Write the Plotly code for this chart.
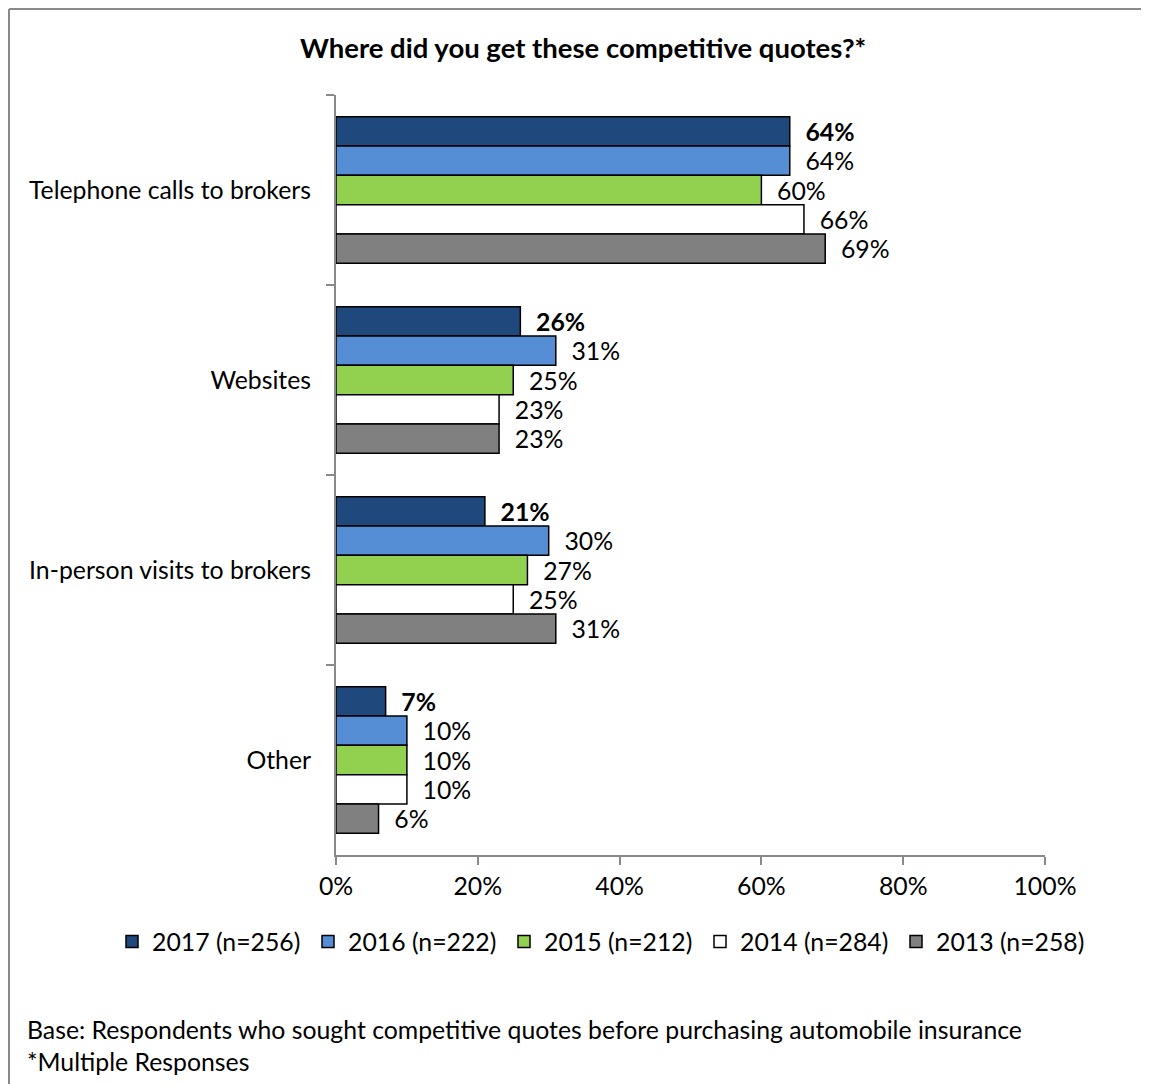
import plotly.graph_objects as go

categories = ["Telephone calls to brokers", "Websites", "In-person visits to brokers", "Other"]
series_names = ["2017 (n=256)", "2016 (n=222)", "2015 (n=212)", "2014 (n=284)", "2013 (n=258)"]
v2017 = [64, 26, 21, 7]
v2016 = [64, 31, 30, 10]
v2015 = [60, 25, 27, 10]
v2014 = [66, 23, 25, 10]
v2013 = [69, 23, 31, 6]
colors = ["#1F497D", "#558ED5", "#92D050", "#FFFFFF", "#808080"]
x_ticks = [0, 20, 40, 60, 80, 100]
x_tick_labels = ["0%", "20%", "40%", "60%", "80%", "100%"]

FONT = "Lato"
FS = 24.8
OFF = 8  # page body margin
W, H = 1149, 1084
L, R, T, B = 336 - OFF, 104 + OFF, 95 - OFF, 229 + OFF
pw = 1045 - 336
ph = 855 - 95

def px(x):
    return (x - 336) / pw

def py(y):
    return (855 - y) / ph

fig = go.Figure()
all_vals = [v2017, v2016, v2015, v2014, v2013]
for i, (name, vals, col) in enumerate(zip(series_names, all_vals, colors)):
    if i == 0:
        labels = ["&nbsp;&nbsp;<b>%d%%</b>" % v for v in vals]
    else:
        labels = ["&nbsp;&nbsp;%d%%" % v for v in vals]
    fig.add_trace(go.Bar(
        y=categories, x=vals, name=name, orientation="h",
        marker=dict(color=col, line=dict(color="#000000", width=1.5)),
        text=labels, textposition="outside", constraintext="none",
        textfont=dict(family=FONT, size=FS, color="#000000"),
        cliponaxis=False, hoverinfo="skip",
    ))

fig.update_layout(
    width=W, height=H,
    margin=dict(l=L, r=R, t=T, b=B, autoexpand=False),
    paper_bgcolor="#FFFFFF", plot_bgcolor="#FFFFFF",
    barmode="group", bargap=0.23, bargroupgap=0,
    font=dict(family=FONT, size=FS, color="#000000"),
    showlegend=True,
    legend=dict(orientation="h", x=px(112), y=py(942), xanchor="left", yanchor="middle",
                traceorder="normal", font=dict(family=FONT, size=FS, color="#000000"),
                entrywidth=151, entrywidthmode="pixels", itemwidth=30,
                bgcolor="rgba(0,0,0,0)"),
    xaxis=dict(range=[0, 100], tickvals=x_ticks, ticktext=x_tick_labels,
               showgrid=False, zeroline=False, showline=True, linecolor="#898989", linewidth=2,
               ticks="outside", ticklen=8, tickcolor="#898989", tickwidth=2,
               tickfont=dict(family=FONT, size=FS, color="#000000"), fixedrange=True),
    yaxis=dict(autorange="reversed", showgrid=False, zeroline=False, showline=True,
               linecolor="#898989", linewidth=2, ticks="outside", ticklen=8,
               tickcolor="#898989", tickwidth=2, tickson="boundaries",
               tickfont=dict(family=FONT, size=FS, color="#000000"), ticklabelstandoff=18,
               fixedrange=True),
)

fig.add_annotation(text="<b>Where did you get these competitive quotes?*</b>",
                   xref="paper", yref="paper", x=px(583), y=py(47),
                   xanchor="center", yanchor="middle", showarrow=False,
                   font=dict(family=FONT, size=27.5, color="#000000"))
fig.add_annotation(text="Base: Respondents who sought competitive quotes before purchasing automobile insurance",
                   xref="paper", yref="paper", x=px(25), y=py(1029),
                   xanchor="left", yanchor="middle", showarrow=False,
                   font=dict(family=FONT, size=FS, color="#000000"))
fig.add_annotation(text="*Multiple Responses",
                   xref="paper", yref="paper", x=px(25), y=py(1061),
                   xanchor="left", yanchor="middle", showarrow=False,
                   font=dict(family=FONT, size=FS, color="#000000"))

# outer frame: only left and top edges are visible in the reference
fig.add_shape(type="line", xref="paper", yref="paper",
              x0=px(9), x1=px(9), y0=py(1300), y1=py(9),
              line=dict(color="#898989", width=2), layer="below")
fig.add_shape(type="line", xref="paper", yref="paper",
              x0=px(9), x1=px(1300), y0=py(9), y1=py(9),
              line=dict(color="#898989", width=2), layer="below")

fig.write_html("out.html")
